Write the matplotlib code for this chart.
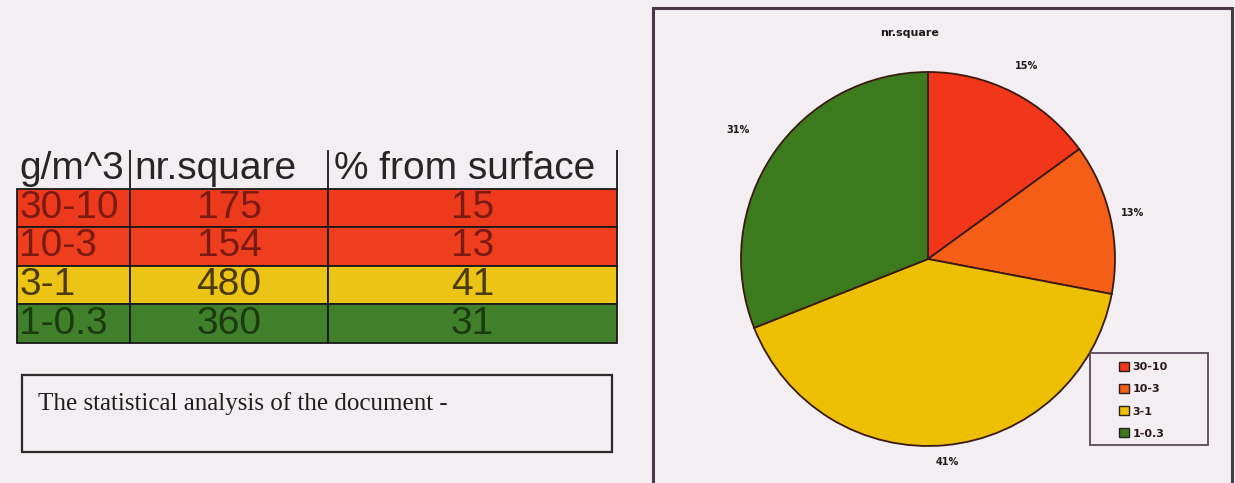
import numpy as np
import matplotlib
matplotlib.use("Agg")
import matplotlib.pyplot as plt
from matplotlib.patches import Rectangle, Patch

# ---------------- data ----------------
col_labels = ["g/m^3", "nr.square", "% from surface"]
ranges = ["30-10", "10-3", "3-1", "1-0.3"]
counts = [175, 154, 480, 360]
percents = [15, 13, 41, 31]
pie_title = "nr.square"
caption = "The statistical analysis of the document -"

# ---------------- styles ----------------
W, H = 1235, 483
bg = "#f2eef1"
table_colors = ["#ee3a1c", "#ee3e1e", "#ecc416", "#40802a"]
text_colors = ["#7a1a12", "#7a1a12", "#4a3a08", "#1c3a10"]
pie_colors = ["#f2361a", "#f55e16", "#ecc000", "#3c7a1e"]
label_r = [1.16, 1.12, 1.09, 1.23]

fig = plt.figure(figsize=(W / 100, H / 100), dpi=100, facecolor=bg)


def fbox(x0, y0, x1, y1):
    """pixel box (top-left origin) -> figure fraction [l, b, w, h]"""
    return [x0 / W, 1 - y1 / H, (x1 - x0) / W, (y1 - y0) / H]


# ---------------- table ----------------
tax = fig.add_axes(fbox(17, 150, 617, 343))
tax.axis("off")
cell_text = [[r, str(c), str(p)] for r, c, p in zip(ranges, counts, percents)]
cell_cols = [[c] * 3 for c in table_colors]
widths = np.array([113, 198, 289], dtype=float)
widths = widths / widths.sum()
tbl = tax.table(cellText=cell_text, colLabels=col_labels, cellColours=cell_cols,
                colWidths=list(widths), bbox=[0, 0, 1, 1], cellLoc="center")
tbl.auto_set_font_size(False)
tbl.set_fontsize(28)
for (r, c), cell in tbl.get_celld().items():
    cell.set_linewidth(1.3)
    cell.set_edgecolor("#1a1a1a")
    t = cell.get_text()
    t.set_fontfamily("Liberation Sans")
    if r == 0:
        cell.set_facecolor("none")
        cell.visible_edges = "R"
        cell.set_text_props(ha="left", color="#262626")
        cell._loc = "left"
        cell.PAD = 0.02
    else:
        t.set_color(text_colors[r - 1])
        if c == 0:
            cell._loc = "left"
            cell.PAD = 0.02
            t.set_ha("left")

# ---------------- caption box ----------------
fig.add_artist(Rectangle((22 / W, 1 - 452 / H), 590 / W, 77 / H,
                         transform=fig.transFigure, fill=False,
                         edgecolor="#2a2a2a", lw=1.6))
fig.text(38 / W, 1 - 404 / H, caption, family="Liberation Serif",
         fontsize=18, color="#1e1e1e", va="center", ha="left")

# ---------------- right panel border ----------------
fig.add_artist(Rectangle((653 / W, -0.05), 579 / W, (1 - 8 / H) + 0.05,
                         transform=fig.transFigure, fill=False,
                         edgecolor="#4a3848", lw=2.2))

# ---------------- pie ----------------
pax = fig.add_axes(fbox(741, 72, 1115, 446))
wedges, _ = pax.pie(percents, colors=pie_colors, startangle=90, counterclock=False,
                    wedgeprops=dict(edgecolor="#3a1a10", linewidth=1.3))
pax.set_xlim(-1, 1)
pax.set_ylim(-1, 1)
pax.set_aspect("auto")
pax.axis("off")
for w, p, rr in zip(wedges, percents, label_r):
    ang = np.deg2rad((w.theta1 + w.theta2) / 2)
    pax.text(rr * np.cos(ang), rr * np.sin(ang), f"{p}%", ha="center", va="center",
             fontsize=7, fontweight="bold", color="#1a1a1a", clip_on=False)

fig.text(910 / W, 1 - 33 / H, pie_title, ha="center", va="center",
         fontsize=8, fontweight="bold", color="#1a1a1a")

# ---------------- legend ----------------
fig.add_artist(Rectangle((1090 / W, 1 - 445 / H), 118 / W, 92 / H,
                         transform=fig.transFigure, fill=False,
                         edgecolor="#5a4a5a", lw=1.3))
handles = [Patch(facecolor=c, edgecolor="#2a2020", lw=1.0) for c in pie_colors]
leg = fig.legend(handles, ranges, loc="upper left",
                 bbox_to_anchor=(1110 / W, 1 - 353 / H), frameon=False,
                 prop=dict(size=8, weight="bold"), handlelength=0.9, handleheight=0.9,
                 handletextpad=0.3, labelspacing=1.05, borderpad=0.3)
for t in leg.get_texts():
    t.set_color("#2a1a1a")

fig.savefig("out.png", dpi=100, facecolor=bg)
